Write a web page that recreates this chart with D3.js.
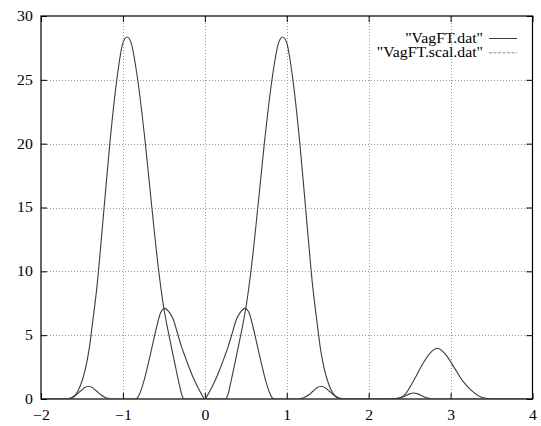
<!DOCTYPE html>
<html>
<head>
<meta charset="utf-8">
<script src="https://cdn.jsdelivr.net/npm/d3@7"></script>
<style>
  body { margin: 0; background: #fff; }
</style>
</head>
<body>
<svg id="chart" width="541" height="426"></svg>
<script>
// Axis ticks
const xTicks = [-2, -1, 0, 1, 2, 3, 4];
const yTicks = [0, 5, 10, 15, 20, 25, 30];
const seriesNames = ['"VagFT.dat"', '"VagFT.scal.dat"'];

// "VagFT.dat": sampled spectrum
const datX = [-2.0, -1.80, -1.67, -1.616, -1.57, -1.516, -1.46, -1.41, -1.37, -1.317, -1.25, -1.16, -1.075, -1.0, -0.95,
  -0.90, -0.826, -0.726, -0.65, -0.57, -0.51, -0.425, -0.354, -0.31, -0.28, -0.25, 0.0,
  0.25, 0.28, 0.31, 0.354, 0.425, 0.51, 0.57, 0.65, 0.726, 0.826, 0.90, 0.95,
  1.0, 1.075, 1.16, 1.25, 1.317, 1.37, 1.41, 1.46, 1.516, 1.57, 1.616, 1.67,
  2.2, 2.35, 2.45, 2.55, 2.65, 2.75, 2.84, 2.95, 3.05, 3.15, 3.25, 3.35, 3.45, 3.55, 4.0];
const datY = [0, 0, 0, 0.08, 0.4, 1.1, 2.3, 4.0, 6.0, 8.8, 13.5, 20, 25, 27.9, 28.35,
  27.9, 25.3, 20, 15.2, 10.4, 7.5, 4.6, 2.4, 1.1, 0.3, 0, 0,
  0, 0.3, 1.1, 2.4, 4.6, 7.5, 10.4, 15.2, 20, 25.3, 27.9, 28.35,
  27.9, 25, 20, 13.5, 8.8, 6.0, 4.0, 2.3, 1.1, 0.4, 0.08, 0,
  0, 0.05, 0.4, 1.45, 2.65, 3.6, 3.97, 3.4, 2.4, 1.4, 0.7, 0.22, 0.04, 0, 0];

// "VagFT.scal.dat": rescaled spectrum
const scalX = [-2.0, -1.72, -1.67, -1.62, -1.57, -1.52, -1.47, -1.42, -1.37, -1.32, -1.27, -1.22, -1.17, -1.12,
  -0.86, -0.83, -0.79, -0.74, -0.69, -0.64, -0.59, -0.54, -0.49, -0.44, -0.39, -0.327, -0.29, -0.24, -0.18, -0.13, -0.08, -0.04, 0.0,
  0.04, 0.08, 0.13, 0.18, 0.24, 0.29, 0.327, 0.39, 0.44, 0.49, 0.54, 0.59, 0.64, 0.69, 0.74, 0.79, 0.83, 0.86,
  1.12, 1.17, 1.22, 1.27, 1.32, 1.37, 1.42, 1.47, 1.52, 1.57, 1.62, 1.67, 1.72,
  2.30, 2.35, 2.40, 2.45, 2.50, 2.55, 2.60, 2.65, 2.70, 2.75, 2.80, 4.0];
const scalY = [0, 0, 0.04, 0.14, 0.33, 0.61, 0.88, 1.0, 0.88, 0.61, 0.33, 0.14, 0.04, 0,
  0, 0.05, 0.5, 1.5, 2.8, 4.2, 5.6, 6.75, 7.1, 6.85, 6.3, 5.0, 4.2, 3.3, 2.27, 1.5, 0.85, 0.38, 0,
  0.38, 0.85, 1.5, 2.27, 3.3, 4.2, 5.0, 6.3, 6.85, 7.1, 6.75, 5.6, 4.2, 2.8, 1.5, 0.5, 0.05, 0,
  0, 0.04, 0.14, 0.33, 0.61, 0.88, 1.0, 0.88, 0.61, 0.33, 0.14, 0.04, 0,
  0, 0.04, 0.12, 0.25, 0.4, 0.47, 0.4, 0.25, 0.12, 0.04, 0, 0];

const W = 541, H = 426;
const margin = { left: 41, right: 8.5, top: 16, bottom: 27 };
const svg = d3.select("#chart");

const x = d3.scaleLinear().domain([-2, 4]).range([margin.left, W - margin.right]);
const y = d3.scaleLinear().domain([0, 30]).range([H - margin.bottom, margin.top]);

const FS = 13.6, SX = 1.16;   // tick/legend font: slightly widened serif
const ink = "#000";
const serif = '"Liberation Serif", "Times New Roman", Tinos, FreeSerif';

// Dotted grid
const grid = svg.append("g").attr("stroke", "#9a9a9a").attr("stroke-width", 1)
  .attr("stroke-dasharray", "1,2").attr("shape-rendering", "crispEdges");
grid.selectAll("line.gx").data(xTicks.slice(1, -1)).join("line")
  .attr("x1", d => Math.round(x(d)) + 0.5).attr("x2", d => Math.round(x(d)) + 0.5)
  .attr("y1", y(0)).attr("y2", y(30));
grid.selectAll("line.gy").data(yTicks.slice(1, -1)).join("line")
  .attr("y1", d => Math.round(y(d)) + 0.5).attr("y2", d => Math.round(y(d)) + 0.5)
  .attr("x1", x(-2)).attr("x2", x(4));

// Axes with inward ticks on all four sides
function styleAxis(g) {
  g.select(".domain").remove();
  g.selectAll(".tick line").attr("stroke", ink).attr("stroke-width", 1);
  g.selectAll("text")
    .style("font-family", serif).style("font-size", FS + "px")
    .attr("fill", ink).attr("transform", `scale(${SX},1)`);
}
const axB = svg.append("g").attr("transform", `translate(0,${y(0)})`)
  .call(d3.axisBottom(x).tickValues(xTicks).tickSizeInner(-6).tickSizeOuter(0).tickPadding(11).tickFormat(d3.format("d")));
styleAxis(axB);

const axL = svg.append("g").attr("transform", `translate(${x(-2)},0)`)
  .call(d3.axisLeft(y).tickValues(yTicks).tickSizeInner(-6).tickSizeOuter(0).tickPadding(7).tickFormat(d3.format("d")));
styleAxis(axL);

const axT = svg.append("g").attr("transform", `translate(0,${y(30)})`)
  .call(d3.axisTop(x).tickValues(xTicks).tickSizeInner(-6).tickSizeOuter(0).tickFormat(""));
styleAxis(axT);
const axR = svg.append("g").attr("transform", `translate(${x(4)},0)`)
  .call(d3.axisRight(y).tickValues(yTicks).tickSizeInner(-6).tickSizeOuter(0).tickFormat(""));
styleAxis(axR);

// Plot border
svg.append("rect")
  .attr("x", x(-2)).attr("y", y(30))
  .attr("width", x(4) - x(-2)).attr("height", y(0) - y(30))
  .attr("fill", "none").attr("stroke", ink).attr("stroke-width", 1.2);

// Curves
svg.append("clipPath").attr("id", "plotClip").append("rect")
  .attr("x", x(-2)).attr("y", y(30)).attr("width", x(4) - x(-2)).attr("height", y(0) - y(30));

const line = d3.line().x(d => x(d[0])).y(d => y(d[1])).curve(d3.curveMonotoneX);
const series = [
  { name: seriesNames[0], pts: d3.zip(datX, datY) },
  { name: seriesNames[1], pts: d3.zip(scalX, scalY) }
];
const plot = svg.append("g").attr("clip-path", "url(#plotClip)");
series.forEach(s => {
  plot.append("path").attr("d", line(s.pts))
    .attr("fill", "none").attr("stroke", "#3c3c3c").attr("stroke-width", 1.1);
});

// Legend (top right, text right-aligned before the line sample)
const legend = svg.append("g");
const legendDash = [null, "3,1.5"];
seriesNames.forEach((nm, i) => {
  const ly = 38.5 + i * 14.3;
  legend.append("text")
    .attr("transform", `translate(483,${ly + 4.3}) scale(${SX},1)`)
    .attr("text-anchor", "end")
    .style("font-family", serif).style("font-size", FS + "px")
    .attr("fill", ink)
    .text(nm);
  legend.append("line")
    .attr("x1", 489).attr("x2", 517).attr("y1", ly).attr("y2", ly)
    .attr("stroke", i === 0 ? "#3c3c3c" : "#8a8a8a").attr("stroke-width", 1)
    .attr("stroke-dasharray", legendDash[i]);
});
</script>
</body>
</html>
